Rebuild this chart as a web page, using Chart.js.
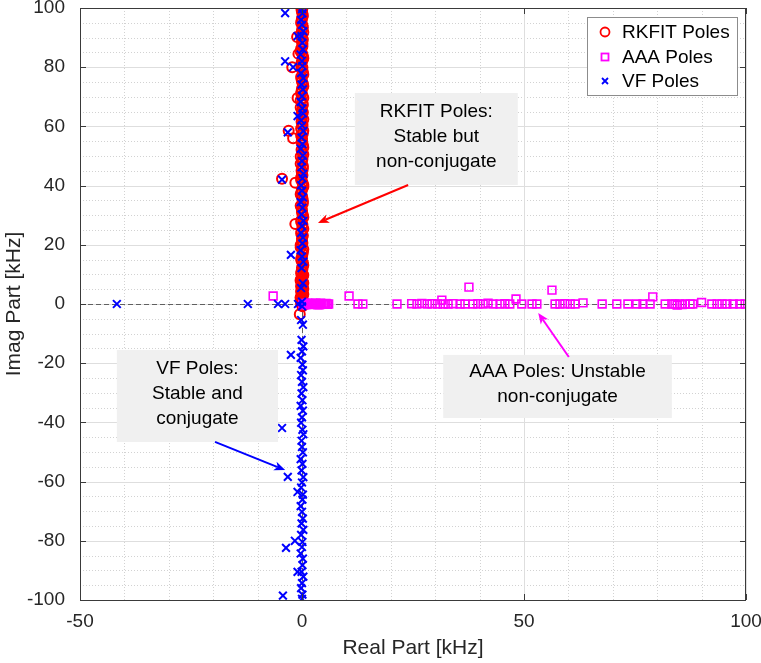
<!DOCTYPE html>
<html>
<head>
<meta charset="utf-8">
<script src="https://cdn.jsdelivr.net/npm/chart.js@4/dist/chart.umd.min.js"></script>
<style>
  html, body { margin: 0; padding: 0; background: #ffffff; }
  #wrap { width: 761px; height: 663px; }
</style>
</head>
<body>
<div id="wrap"><canvas id="c" width="761" height="663"></canvas></div>
<script>
// ---------------- DATA ----------------
const xTickValues = [-50, 0, 50, 100];
const yTickValues = [-100, -80, -60, -40, -20, 0, 20, 40, 60, 80, 100];
const seriesNames = ['RKFIT Poles', 'AAA Poles', 'VF Poles'];

// RKFIT poles: dense column near real = 0 (upper half plane)
const rkfitColImag = [
  -0.8, 0.2, 0.9, 1.5, 2.3, 3.0, 3.6, 4.5, 5.1, 5.9,
  6.7, 7.4, 8.2, 9.1, 9.8, 11.0, 12.3, 13.9, 15.2, 16.8,
  18.5, 19.9, 21.4, 23.1, 24.6, 26.0, 27.8, 29.3, 30.9, 32.4,
  34.0, 35.7, 37.1, 38.8, 40.2, 41.9, 43.5, 45.0, 46.6, 48.3,
  49.8, 51.2, 52.9, 54.6, 56.0, 57.7, 59.3, 60.8, 62.4, 64.1,
  65.5, 67.2, 68.8, 70.4, 71.9, 73.6, 75.1, 76.7, 78.4, 79.9,
  81.5, 83.0, 84.7, 86.2, 87.9, 89.4, 91.0, 92.6, 94.2, 95.7,
  97.3, 98.8, 99.9
];
const rkfitColReal = [
  0.1, -0.2, 0.3, 0.0, -0.3, 0.2, 0.1, -0.1, 0.3, -0.2,
  0.0, 0.2, -0.3, 0.1, 0.3, -0.1, 0.0, 0.2, -0.2, 0.1,
  0.3, -0.3, 0.0, 0.2, -0.1, 0.1, -0.2, 0.3, 0.0, -0.1,
  0.2, 0.1, -0.3, 0.0, 0.3, -0.2, 0.1, -0.1, 0.2, 0.0,
  -0.3, 0.1, 0.3, -0.1, 0.0, 0.2, -0.2, 0.1, 0.3, -0.1,
  0.0, 0.2, -0.3, 0.1, -0.1, 0.3, 0.0, -0.2, 0.2, 0.1,
  -0.1, 0.3, 0.0, -0.2, 0.1, 0.2, -0.3, 0.0, 0.1, -0.1,
  0.2, 0.0, 0.1
];
const rkfitCol2Imag = [
  0.5, 1.2, 2.0, 2.7, 3.3, 4.1, 4.8, 5.5, 6.3, 7.1,
  7.8, 8.6, 9.5, 10.4, 11.7, 13.1, 14.5, 16.0, 17.6, 19.2,
  20.6, 22.2, 23.9, 25.3, 26.9, 28.5, 30.1, 31.6, 33.2, 34.8,
  36.4, 38.0, 39.5, 41.1, 42.7, 44.2, 45.8, 47.4, 49.0, 50.5,
  52.1, 53.7, 55.3, 56.9, 58.5, 60.1, 61.6, 63.2, 64.8, 66.4,
  68.0, 69.6, 71.1, 72.8, 74.4, 75.9, 77.5, 79.1, 80.7, 82.3,
  83.8, 85.4, 87.1, 88.6, 90.2, 91.8, 93.4, 94.9, 96.5, 98.1,
  99.4
];
const rkfitCol2Real = [
  -0.1, 0.2, -0.3, 0.1, 0.3, -0.2, 0.0, 0.2, -0.1, 0.3,
  -0.3, 0.0, 0.2, -0.2, 0.1, 0.3, -0.1, 0.0, 0.2, -0.3,
  0.1, 0.0, -0.2, 0.3, 0.1, -0.1, 0.2, 0.0, -0.3, 0.2,
  0.0, -0.1, 0.3, 0.1, -0.2, 0.0, 0.2, -0.3, 0.1, 0.3,
  -0.1, 0.2, 0.0, -0.2, 0.3, 0.1, -0.1, 0.0, 0.2, -0.3,
  0.1, 0.3, -0.2, 0.0, 0.2, -0.1, 0.3, 0.0, -0.2, 0.1,
  0.2, -0.3, 0.1, 0.0, -0.1, 0.3, 0.2, -0.2, 0.0, 0.1,
  -0.1
];
const rkfitOutReal = [-4.5, -3.0, -2.0, -2.2, -1.1, -1.0, -1.5, -1.5, -0.5, -0.8];
const rkfitOutImag = [42.3, 58.5, 56.0, 80.0, 90.2, 69.6, 41.0, 27.0, -3.5, 84.5];

// AAA poles: along the real axis
const aaaReal = [
  0.4, 0.9, 1.5, 2.1, 2.7, 3.3, 3.9, 4.5, 5.1, 5.7,
  -6.5, 10.6, 12.6, 13.7, 21.4, 24.7, 25.9, 27.0, 28.2, 29.3,
  30.5, 31.5, 31.8, 32.9, 34.0, 35.6, 36.7, 37.6, 38.5, 39.6,
  40.8, 41.9, 43.0, 44.6, 45.7, 46.8, 48.2, 49.5, 51.8, 52.9,
  56.3, 57.0, 58.1, 59.2, 60.4, 61.5, 63.3, 67.6, 70.9, 73.4,
  75.4, 76.8, 78.4, 79.0, 81.8, 83.3, 84.5, 85.1, 86.3, 87.4,
  88.0, 90.0, 92.3, 93.5, 94.6, 95.7, 97.1, 98.6, 99.8,
  0.6, 1.2, 1.8, 2.4, 3.0, 3.6, 4.2, 4.8, 5.4, 6.0,
  0.2, 1.0, 2.2, 3.1, 4.0, 5.3, 84.0, 85.6, 0.8, 2.9
];
const aaaImag = [
  0.1, -0.2, 0.2, 0.0, -0.1, 0.2, -0.2, 0.1, 0.0, -0.1,
  2.7, 2.7, 0.0, 0.0, 0.0, 0.1, 0.0, 0.2, 0.0, 0.1,
  0.0, 1.3, 0.0, 0.0, 0.1, 0.0, 0.0, 5.7, 0.0, 0.1,
  0.0, 0.3, 0.0, 0.0, 0.1, 0.0, 1.7, 0.0, 0.0, 0.0,
  4.7, 0.0, 0.0, 0.1, 0.0, 0.0, 0.4, 0.0, 0.0, 0.0,
  0.0, 0.0, 0.0, 2.4, 0.0, 0.0, -0.4, 0.0, 0.0, 0.0,
  0.0, 0.5, 0.0, 0.0, 0.0, 0.0, 0.0, 0.0, 0.0,
  -0.3, 0.3, -0.2, 0.2, 0.0, -0.3, 0.3, -0.1, 0.2, 0.0,
  0.0, -0.1, 0.1, 0.3, -0.2, 0.1, 0.0, -0.2, 0.2, -0.1
];

// VF poles: conjugate column near real = 0 plus outliers
const vfColReal = [
  0.0, -0.2, 0.2, -0.1, 0.3, 0.0, -0.3, 0.1, 0.2, -0.2,
  0.0, 0.3, -0.1, 0.1, -0.3, 0.2, 0.0, -0.2, 0.1, 0.3,
  -0.1, 0.0, 0.2, -0.3, 0.1, -0.1, 0.3, 0.0, -0.2, 0.2,
  0.1, -0.3, 0.0, 0.2, -0.1, 0.3, -0.2, 0.1, 0.0, -0.3,
  0.2, 0.1, -0.1, 0.3, 0.0, -0.2, 0.1, 0.0
];
const vfColImagUpper = [
  0.8, 5.4, 7.0, 12.1, 14.3, 16.0, 18.2, 20.5, 22.4, 24.0,
  26.3, 28.1, 30.2, 32.5, 34.4, 36.0, 38.3, 40.1, 42.5, 44.0,
  46.2, 48.3, 50.1, 52.4, 54.0, 56.2, 58.5, 60.3, 62.0, 64.4,
  66.1, 68.3, 70.2, 72.5, 74.1, 76.3, 78.0, 80.4, 82.1, 84.3,
  86.0, 88.2, 90.5, 92.1, 94.3, 96.0, 98.2, 99.6
];
const vfColImagLower = [
  -0.8, -5.4, -7.0, -12.1, -14.3, -16.0, -18.2, -20.5, -22.4, -24.0,
  -26.3, -28.1, -30.2, -32.5, -34.4, -36.0, -38.3, -40.1, -42.5, -44.0,
  -46.2, -48.3, -50.1, -52.4, -54.0, -56.2, -58.5, -60.3, -62.0, -64.4,
  -66.1, -68.3, -70.2, -72.5, -74.1, -76.3, -78.0, -80.4, -82.1, -84.3,
  -86.0, -88.2, -90.5, -92.1, -94.3, -96.0, -98.2, -99.6
];
const vfOutReal = [-41.7, -12.2, -5.4, -3.8, -0.9, -3.8, -4.3, -3.8, -3.6, -2.0, -1.6, -3.2, -3.2, -4.5, -4.5, -2.5, -2.5, -1.0, -1.0, -1.0, -1.0];
const vfOutImag = [0, 0, 0, 0, 0, 98.3, -98.5, 82.0, -82.4, 80.0, -80.0, 58.0, -58.4, 42.0, -41.9, 16.6, -17.2, 90.5, -90.5, 63.5, -63.5];

// ---------------- BUILD POINTS ----------------
function pts(re, im) { return re.map((v, i) => ({ x: v, y: im[i] })); }
const rkfitPoints = pts(rkfitColReal, rkfitColImag)
  .concat(pts(rkfitCol2Real, rkfitCol2Imag))
  .concat(pts(rkfitOutReal, rkfitOutImag));
const aaaPoints = pts(aaaReal, aaaImag);
const vfPoints = pts(vfColReal, vfColImagUpper)
  .concat(pts(vfColReal, vfColImagLower))
  .concat(pts(vfOutReal, vfOutImag));

// ---------------- STYLE ----------------
const FONT = "'Liberation Sans', Arial, Helvetica, sans-serif";
const TXT = '#262626';
const colors = { rkfit: '#ff0000', aaa: '#ff00ff', vf: '#0000ff' };

const annotations = [
  { lines: ['RKFIT Poles:', 'Stable but', 'non-conjugate'], box: [11.9, 71.3, 48.6, 40.2], from: [23.9, 40.2], to: [3.6, 27.4], color: colors.rkfit },
  { lines: ['AAA Poles: Unstable', 'non-conjugate'], box: [31.8, -17.2, 83.3, -38.5], from: [60.1, -17.9], to: [53.2, -3.0], color: colors.aaa },
  { lines: ['VF Poles:', 'Stable and', 'conjugate'], box: [-41.7, -15.5, -5.4, -46.6], from: [-19.6, -46.6], to: [-3.8, -56.1], color: colors.vf }
];

function drawArrow(ctx, x1, y1, x2, y2, color) {
  const ang = Math.atan2(y2 - y1, x2 - x1);
  const L = 11, W = 4.5, back = 8;
  ctx.save();
  ctx.strokeStyle = color; ctx.fillStyle = color; ctx.lineWidth = 2; ctx.setLineDash([]);
  ctx.beginPath();
  ctx.moveTo(x1, y1);
  ctx.lineTo(x2 - Math.cos(ang) * back, y2 - Math.sin(ang) * back);
  ctx.stroke();
  ctx.translate(x2, y2); ctx.rotate(ang);
  ctx.beginPath();
  ctx.moveTo(0, 0);
  ctx.lineTo(-L, -W);
  ctx.lineTo(-back, 0);
  ctx.lineTo(-L, W);
  ctx.closePath();
  ctx.fill();
  ctx.restore();
}

const matlabPlugin = {
  id: 'matlabDecor',
  beforeDatasetsDraw(chart) {
    const { ctx, chartArea: { left, right, top, bottom }, scales: { x, y } } = chart;
    ctx.save();
    ctx.lineWidth = 1;
    // minor dotted grid
    ctx.strokeStyle = '#d2d2d2';
    ctx.setLineDash([1, 2]);
    for (let v = -50; v <= 100; v += 10) {
      if (xTickValues.includes(v)) continue;
      const px = Math.round(x.getPixelForValue(v)) + 0.5;
      ctx.beginPath(); ctx.moveTo(px, top); ctx.lineTo(px, bottom); ctx.stroke();
    }
    for (let v = -100; v <= 100; v += 5) {
      if (yTickValues.includes(v)) continue;
      const py = Math.round(y.getPixelForValue(v)) + 0.5;
      ctx.beginPath(); ctx.moveTo(left, py); ctx.lineTo(right, py); ctx.stroke();
    }
    // major solid grid
    ctx.setLineDash([]);
    ctx.strokeStyle = '#dedede';
    xTickValues.forEach(v => {
      const px = Math.round(x.getPixelForValue(v)) + 0.5;
      ctx.beginPath(); ctx.moveTo(px, top); ctx.lineTo(px, bottom); ctx.stroke();
    });
    yTickValues.forEach(v => {
      const py = Math.round(y.getPixelForValue(v)) + 0.5;
      ctx.beginPath(); ctx.moveTo(left, py); ctx.lineTo(right, py); ctx.stroke();
    });
    // zero dashed lines
    ctx.strokeStyle = '#606060';
    ctx.setLineDash([5, 3]);
    const zy = Math.round(y.getPixelForValue(0)) + 0.5;
    ctx.beginPath(); ctx.moveTo(left, zy); ctx.lineTo(right, zy); ctx.stroke();
    const zx = Math.round(x.getPixelForValue(0)) + 0.5;
    ctx.beginPath(); ctx.moveTo(zx, top); ctx.lineTo(zx, bottom); ctx.stroke();
    ctx.restore();
  },
  afterDatasetsDraw(chart) {
    const { ctx, chartArea: { left, right, top, bottom }, scales: { x, y } } = chart;
    ctx.save();
    // frame
    ctx.setLineDash([]);
    ctx.strokeStyle = '#3a3a3a';
    ctx.lineWidth = 1;
    ctx.strokeRect(Math.round(left) + 0.5, Math.round(top) + 0.5, Math.round(right - left) - 1, Math.round(bottom - top));
    // tick marks (inward)
    const tl = 6;
    xTickValues.forEach(v => {
      const px = Math.round(x.getPixelForValue(v)) + 0.5;
      ctx.beginPath(); ctx.moveTo(px, bottom); ctx.lineTo(px, bottom - tl); ctx.stroke();
      ctx.beginPath(); ctx.moveTo(px, top); ctx.lineTo(px, top + tl); ctx.stroke();
    });
    yTickValues.forEach(v => {
      const py = Math.round(y.getPixelForValue(v)) + 0.5;
      ctx.beginPath(); ctx.moveTo(left, py); ctx.lineTo(left + tl, py); ctx.stroke();
      ctx.beginPath(); ctx.moveTo(right, py); ctx.lineTo(right - tl, py); ctx.stroke();
    });

    // annotations
    annotations.forEach(a => {
      const bx1 = x.getPixelForValue(a.box[0]), by1 = y.getPixelForValue(a.box[1]);
      const bx2 = x.getPixelForValue(a.box[2]), by2 = y.getPixelForValue(a.box[3]);
      ctx.fillStyle = '#f0f0f0';
      ctx.fillRect(bx1, by1, bx2 - bx1, by2 - by1);
      ctx.fillStyle = '#000000';
      ctx.font = '19px ' + FONT;
      ctx.textAlign = 'center';
      ctx.textBaseline = 'middle';
      const cx = (bx1 + bx2) / 2, cy = (by1 + by2) / 2 - 2.5;
      const lh = 25;
      const n = a.lines.length;
      a.lines.forEach((t, i) => {
        ctx.fillText(t, cx, cy + (i - (n - 1) / 2) * lh);
      });
      drawArrow(ctx, x.getPixelForValue(a.from[0]), y.getPixelForValue(a.from[1]),
                x.getPixelForValue(a.to[0]), y.getPixelForValue(a.to[1]), a.color);
    });

    // legend
    const lx = 587, ly = 17, lw = 150, lh2 = 78;
    ctx.fillStyle = '#ffffff';
    ctx.fillRect(lx, ly, lw, lh2);
    ctx.strokeStyle = '#8c8c8c';
    ctx.lineWidth = 1;
    ctx.strokeRect(lx + 0.5, ly + 0.5, lw, lh2);
    const rows = [32, 57, 81];
    ctx.font = '19px ' + FONT;
    ctx.textAlign = 'left';
    ctx.textBaseline = 'middle';
    ctx.fillStyle = '#000000';
    seriesNames.forEach((nm, i) => ctx.fillText(nm, 622, rows[i] + 1));
    const mx = 605;
    ctx.lineWidth = 1.8;
    ctx.strokeStyle = colors.rkfit;
    ctx.beginPath(); ctx.arc(mx, rows[0], 4.5, 0, Math.PI * 2); ctx.stroke();
    ctx.strokeStyle = colors.aaa;
    ctx.strokeRect(mx - 3.5, rows[1] - 3.5, 7, 7);
    ctx.strokeStyle = colors.vf;
    ctx.beginPath();
    ctx.moveTo(mx - 3, rows[2] - 3); ctx.lineTo(mx + 3, rows[2] + 3);
    ctx.moveTo(mx + 3, rows[2] - 3); ctx.lineTo(mx - 3, rows[2] + 3);
    ctx.stroke();
    ctx.restore();
  }
};

new Chart(document.getElementById('c').getContext('2d'), {
  type: 'scatter',
  data: {
    datasets: [
      { label: seriesNames[0], data: rkfitPoints, pointStyle: 'circle', pointRadius: 5, pointBorderWidth: 2,
        borderColor: colors.rkfit, backgroundColor: 'rgba(0,0,0,0)', order: 3 },
      { label: seriesNames[1], data: aaaPoints, pointStyle: 'rect', pointRadius: 5.5, pointBorderWidth: 1.6,
        borderColor: colors.aaa, backgroundColor: 'rgba(0,0,0,0)', order: 2 },
      { label: seriesNames[2], data: vfPoints, pointStyle: 'crossRot', pointRadius: 5.5, pointBorderWidth: 2,
        borderColor: colors.vf, backgroundColor: colors.vf, order: 1 }
    ]
  },
  options: {
    responsive: false,
    animation: false,
    events: [],
    layout: { padding: { top: 8, right: 15, left: 0, bottom: 0 } },
    plugins: { legend: { display: false }, tooltip: { enabled: false } },
    scales: {
      x: {
        type: 'linear', min: -50, max: 100,
        afterBuildTicks(s) { s.ticks = xTickValues.map(v => ({ value: v })); },
        ticks: { font: { family: FONT, size: 19 }, color: TXT, padding: 2, maxRotation: 0, autoSkip: false },
        grid: { display: false }, border: { display: false },
        title: { display: true, text: 'Real Part [kHz]', font: { family: FONT, size: 21 }, color: TXT, padding: { top: 0, bottom: 2 } },
        afterFit(s) { s.height = 63; s.paddingLeft = 0; s.paddingRight = 0; }
      },
      y: {
        type: 'linear', min: -100, max: 100,
        afterBuildTicks(s) { s.ticks = yTickValues.map(v => ({ value: v })); },
        ticks: { font: { family: FONT, size: 19 }, color: TXT, padding: 7, autoSkip: false },
        grid: { display: false }, border: { display: false },
        title: { display: true, text: 'Imag Part [kHz]', font: { family: FONT, size: 21 }, color: TXT, padding: { top: 2, bottom: 0 } },
        afterFit(s) { s.width = 80; s.paddingTop = 0; s.paddingBottom = 0; }
      }
    }
  },
  plugins: [matlabPlugin]
});
</script>
</body>
</html>
